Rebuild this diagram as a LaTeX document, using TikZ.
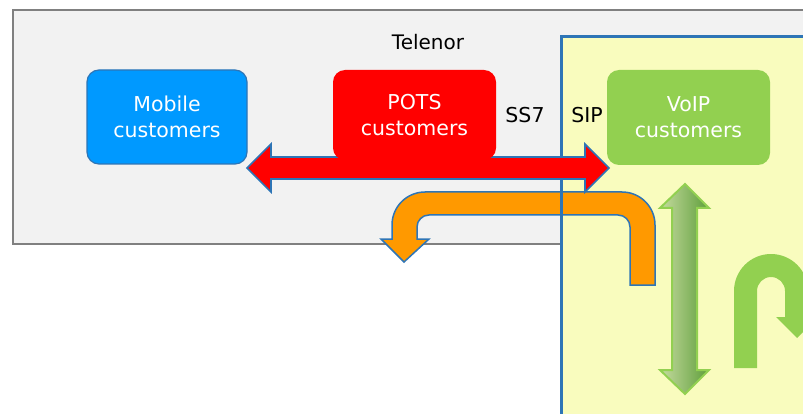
\documentclass[tikz,border=0pt]{standalone}
\usepackage{fontspec}
\setmainfont{DejaVu Sans}
\definecolor{greyfill}{HTML}{F2F2F2}
\definecolor{greyline}{HTML}{808080}
\definecolor{yellowfill}{HTML}{F9FCBE}
\definecolor{edgeblue}{HTML}{2E75B6}
\definecolor{mobileblue}{HTML}{0099FF}
\definecolor{voipgreen}{HTML}{92D050}
\definecolor{arroworange}{HTML}{FF9900}
\definecolor{lightgreen}{HTML}{C6DBA0}
\definecolor{darkgreen}{HTML}{5E9E3A}
\tikzset{
  custbox/.style={rounded corners=12pt, inner sep=0pt, text=white, align=center,
    font=\fontsize{20.5}{26}\selectfont},
  lbl/.style={inner sep=0pt, font=\fontsize{20.5}{26}\selectfont, text=black},
}
\begin{document}
\begin{tikzpicture}[x=1pt,y=-1pt]
\clip (0,0) rectangle (803,414);
\fill[white] (0,0) rectangle (803,414);
% Telenor area
\draw[fill=greyfill, draw=greyline, line width=1.5pt] (13,10) rectangle (840,244);
\node[lbl, font=\fontsize{20}{24}\selectfont] (telenor) at (428,42) {Telenor};
% VoIP area fill
\fill[yellowfill] (561,37) rectangle (840,440);
% orange U-turn arrow
\draw[fill=arroworange, draw=edgeblue, line width=1.5pt, line join=miter]
  (655,285) -- (655,225) arc[start angle=0, end angle=90, radius=33pt]
  -- (425,192) arc[start angle=90, end angle=180, radius=33pt]
  -- (392,239) -- (381,239) -- (404,262) -- (429,239) -- (417,239)
  -- (417,227) arc[start angle=180, end angle=90, radius=12pt]
  -- (618,215) arc[start angle=90, end angle=0, radius=12pt]
  -- (630,285) -- cycle;
% VoIP area border
\draw[edgeblue, line width=3pt] (561,440) -- (561,37) -- (840,37);
% red double arrow
\draw[fill=red, draw=edgeblue, line width=1.6pt]
  (247,168) -- (271,144) -- (271,157) -- (585,157) -- (585,144) -- (609,168)
  -- (585,192) -- (585,179) -- (271,179) -- (271,192) -- cycle;
% customer boxes
\node[custbox, fill=mobileblue, draw=edgeblue, line width=1.2pt, minimum width=160pt, minimum height=94pt]
  (mobile) at (167,117) {Mobile\\customers};
\node[custbox, fill=red, minimum width=163pt, minimum height=90pt]
  (pots) at (414.5,115) {POTS\\customers};
\node[custbox, fill=voipgreen, minimum width=163pt, minimum height=95pt]
  (voip) at (688.5,117.5) {VoIP\\customers};
% green vertical double arrow
\draw[left color=lightgreen, right color=darkgreen, draw=voipgreen, line width=2pt]
  (685,184) -- (709,208) -- (697,208) -- (697,370) -- (709,370) -- (685,394)
  -- (660,370) -- (672,370) -- (672,208) -- (660,208) -- cycle;
% green U-turn arrow (partly cut off)
\fill[voipgreen]
  (734,368) -- (734,291) arc[start angle=180, end angle=0, radius=37pt] -- (808,317) -- (818,317)
  -- (797,338) -- (776,317) -- (785,317) -- (785,291) arc[start angle=0, end angle=180, radius=14pt]
  -- (757,368) -- cycle;
% protocol labels
\node[lbl] (ss7) at (525,115) {SS7};
\node[lbl] (sip) at (587,115) {SIP};
\end{tikzpicture}
\end{document}
